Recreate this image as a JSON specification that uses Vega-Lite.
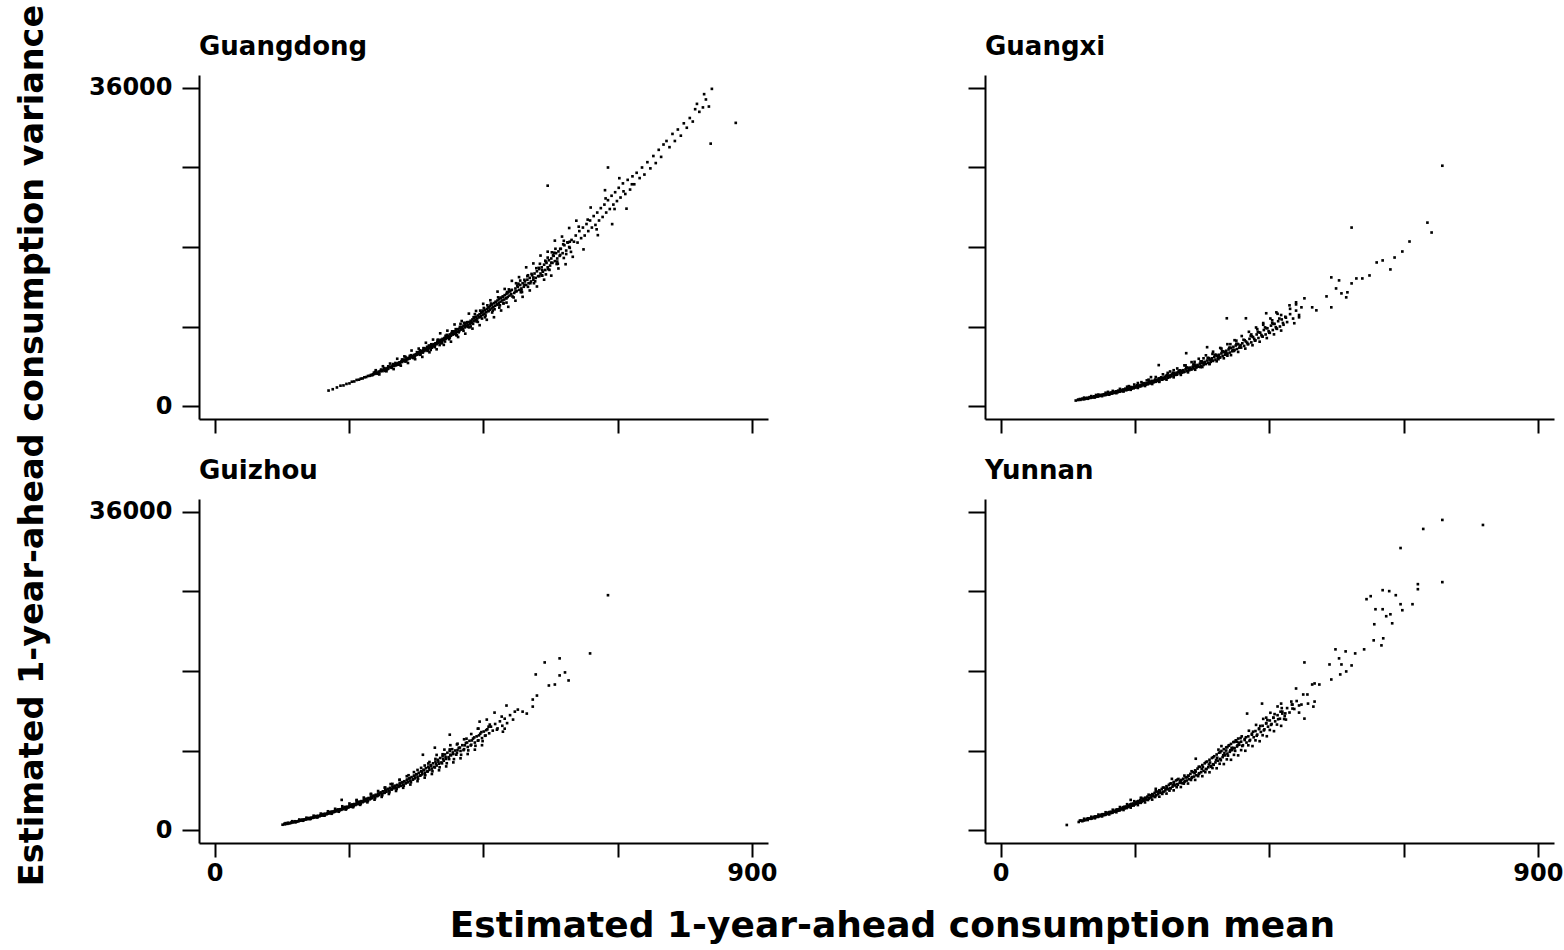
{
"$schema":"https://vega.github.io/schema/vega-lite/v6.json",
"background":"white",
"padding":{"left":16,"top":4,"right":5,"bottom":5},
"config":{"view":{"stroke":null},"font":"DejaVu Sans",
"axis":{"domainColor":"black","domainWidth":2,"tickColor":"black","tickWidth":2,"labelFont":"DejaVu Sans","labelFontWeight":"bold","labelFontSize":24,"labelColor":"black","grid":false,"title":null,"labelFlush":false,"labelOverlap":false},
"axisX":{"tickSize":14,"labelPadding":4},
"axisY":{"tickSize":17,"labelPadding":10}},
"title":{"text":"Estimated 1-year-ahead consumption mean","orient":"bottom","anchor":"middle","fontSize":36,"fontWeight":"bold","font":"DejaVu Sans","color":"black","offset":23,"dx":103},
"vconcat":[{
"title":{"text":"Estimated 1-year-ahead consumption variance","orient":"left","anchor":"middle","fontSize":33.5,"fontWeight":"bold","font":"DejaVu Sans","color":"black","offset":38,"dx":14},
"spacing":24,
"vconcat":[
{"hconcat":[
{"data":{"name":"gd"},"title":{"text":"Guangdong","anchor":"start","frame":"group","fontSize":26,"fontWeight":"bold","font":"DejaVu Sans","color":"black","offset":15},"width":569,"height":344,
"mark":{"type":"square","size":7,"color":"black","opacity":1},
"encoding":{"x":{"field":"m","type":"quantitative","scale":{"domain":[-26,927],"nice":false,"zero":false},"axis":{"values":[0,225,450,675,900],"labels":false}},
"y":{"field":"v","type":"quantitative","scale":{"domain":[-1470,37470],"nice":false,"zero":false},"axis":{"values":[0,9000,18000,27000,36000],"format":"d","labelExpr":"datum.value==0||datum.value==36000?datum.label:''"}}}},
{"data":{"name":"gx"},"title":{"text":"Guangxi","anchor":"start","frame":"group","fontSize":26,"fontWeight":"bold","font":"DejaVu Sans","color":"black","offset":15},"width":569,"height":344,
"mark":{"type":"square","size":7,"color":"black","opacity":1},
"encoding":{"x":{"field":"m","type":"quantitative","scale":{"domain":[-26,927],"nice":false,"zero":false},"axis":{"values":[0,225,450,675,900],"labels":false}},
"y":{"field":"v","type":"quantitative","scale":{"domain":[-1470,37470],"nice":false,"zero":false},"axis":{"values":[0,9000,18000,27000,36000],"labels":false}}}}
],"spacing":217,"bounds":"flush"},
{"hconcat":[
{"data":{"name":"gz"},"title":{"text":"Guizhou","anchor":"start","frame":"group","fontSize":26,"fontWeight":"bold","font":"DejaVu Sans","color":"black","offset":15},"width":569,"height":344,
"mark":{"type":"square","size":7,"color":"black","opacity":1},
"encoding":{"x":{"field":"m","type":"quantitative","scale":{"domain":[-26,927],"nice":false,"zero":false},"axis":{"values":[0,225,450,675,900],"format":"d","labelExpr":"datum.value==0||datum.value==900?datum.label:''"}},
"y":{"field":"v","type":"quantitative","scale":{"domain":[-1470,37470],"nice":false,"zero":false},"axis":{"values":[0,9000,18000,27000,36000],"format":"d","labelExpr":"datum.value==0||datum.value==36000?datum.label:''"}}}},
{"data":{"name":"yn"},"title":{"text":"Yunnan","anchor":"start","frame":"group","fontSize":26,"fontWeight":"bold","font":"DejaVu Sans","color":"black","offset":15},"width":569,"height":344,
"mark":{"type":"square","size":7,"color":"black","opacity":1},
"encoding":{"x":{"field":"m","type":"quantitative","scale":{"domain":[-26,927],"nice":false,"zero":false},"axis":{"values":[0,225,450,675,900],"format":"d","labelExpr":"datum.value==0||datum.value==900?datum.label:''"}},
"y":{"field":"v","type":"quantitative","scale":{"domain":[-1470,37470],"nice":false,"zero":false},"axis":{"values":[0,9000,18000,27000,36000],"labels":false}}}}
],"spacing":217,"bounds":"flush"}
]}],
"datasets":{
"gd":[{"m":191,"v":1750},{"m":198,"v":1900},{"m":205,"v":2100},{"m":211,"v":2300},{"m":216,"v":2330},{"m":221,"v":2500},{"m":226,"v":2560},{"m":230,"v":2750},{"m":234,"v":2780},{"m":238,"v":2950},{"m":242,"v":2980},{"m":245,"v":3100},{"m":248,"v":3120},{"m":251,"v":3250},{"m":254,"v":3280},{"m":257,"v":3400},{"m":260,"v":3420},
{"m":262,"v":3520},{"m":264,"v":3480},{"m":266,"v":3600},{"m":268,"v":3640},{"m":270,"v":3700},{"m":271,"v":3780},{"m":273,"v":3760},{"m":275,"v":3900},{"m":276,"v":3820},{"m":278,"v":3960},{"m":280,"v":4050},{"m":281,"v":3950},{"m":283,"v":4100},{"m":285,"v":4180},{"m":286,"v":4080},{"m":288,"v":4250},{"m":290,"v":4300},{"m":291,"v":4220},{"m":293,"v":4400},{"m":295,"v":4450},{"m":296,"v":4380},{"m":298,"v":4560},{"m":300,"v":4620},{"m":301,"v":4540},{"m":303,"v":4700},
{"m":305,"v":4800},{"m":306,"v":4680},{"m":308,"v":4860},{"m":310,"v":4950},{"m":311,"v":4820},{"m":313,"v":5050},{"m":314,"v":4980},{"m":316,"v":5150},{"m":318,"v":5100},{"m":319,"v":5260},{"m":321,"v":5200},{"m":322,"v":5350},{"m":324,"v":5300},{"m":325,"v":5450},{"m":327,"v":5380},{"m":328,"v":5560},{"m":330,"v":5500},{"m":331,"v":5650},{"m":333,"v":5600},{"m":334,"v":5780},{"m":336,"v":5700},{"m":337,"v":5850},{"m":339,"v":5800},{"m":340,"v":5980},{"m":342,"v":5900},{"m":343,"v":6100},{"m":345,"v":6000},{"m":346,"v":6200},{"m":348,"v":6120},{"m":349,"v":6300},{"m":351,"v":6220},{"m":352,"v":6400},{"m":354,"v":6300},{"m":355,"v":6520},{"m":357,"v":6450},{"m":358,"v":6650},{"m":360,"v":6550},{"m":361,"v":6780},{"m":363,"v":6700},{"m":364,"v":6900},{"m":366,"v":6750},{"m":367,"v":7000},{"m":369,"v":6900},{"m":370,"v":7100},{"m":372,"v":7000},{"m":373,"v":7250},{"m":375,"v":7150},{"m":376,"v":7350},{"m":378,"v":7250},{"m":379,"v":7500},{"m":381,"v":7380},{"m":382,"v":7600},{"m":384,"v":7450},{"m":385,"v":7700},{"m":387,"v":7600},{"m":388,"v":7850},{"m":390,"v":7700},{"m":391,"v":7950},{"m":393,"v":7850},{"m":394,"v":8100},{"m":396,"v":7950},{"m":397,"v":8250},{"m":399,"v":8100},{"m":400,"v":8350},
{"m":320,"v":5550},{"m":335,"v":5450},{"m":350,"v":6550},{"m":362,"v":6350},{"m":374,"v":7500},{"m":386,"v":7300},{"m":398,"v":8450},{"m":356,"v":6700},{"m":344,"v":5800},{"m":377,"v":6900},
{"m":401,"v":8150},{"m":402,"v":8450},{"m":404,"v":8300},{"m":405,"v":8550},{"m":407,"v":8400},{"m":408,"v":8700},{"m":410,"v":8500},{"m":411,"v":8800},{"m":413,"v":8650},{"m":414,"v":8950},{"m":416,"v":8750},{"m":417,"v":9100},{"m":419,"v":8900},{"m":420,"v":9200},{"m":422,"v":9050},{"m":423,"v":9350},{"m":425,"v":9150},{"m":426,"v":9500},{"m":428,"v":9300},{"m":429,"v":9650},{"m":431,"v":9450},{"m":432,"v":9800},{"m":434,"v":9600},{"m":435,"v":9950},{"m":437,"v":9750},{"m":438,"v":10100},{"m":440,"v":9900},{"m":441,"v":10250},{"m":443,"v":10050},{"m":444,"v":10400},{"m":446,"v":10150},{"m":447,"v":10550},{"m":449,"v":10300},{"m":450,"v":10700},{"m":452,"v":10450},{"m":453,"v":10850},{"m":455,"v":10600},{"m":456,"v":11000},{"m":458,"v":10750},{"m":459,"v":11150},{"m":461,"v":10900},{"m":462,"v":11350},{"m":464,"v":11050},{"m":465,"v":11500},{"m":467,"v":11200},{"m":468,"v":11650},{"m":470,"v":11350},{"m":471,"v":11800},{"m":473,"v":11500},{"m":474,"v":11950},{"m":476,"v":11650},{"m":477,"v":12100},{"m":479,"v":11800},{"m":480,"v":12250},{"m":482,"v":11950},{"m":483,"v":12400},{"m":485,"v":12050},{"m":486,"v":12550},{"m":488,"v":12200},{"m":489,"v":12700},{"m":491,"v":12350},{"m":492,"v":12850},{"m":494,"v":12500},{"m":495,"v":13000},{"m":497,"v":12650},{"m":498,"v":13150},
{"m":412,"v":9300},{"m":427,"v":8900},{"m":436,"v":10400},{"m":448,"v":9900},{"m":457,"v":11400},{"m":466,"v":10800},{"m":475,"v":12300},{"m":484,"v":11600},{"m":493,"v":13200},{"m":406,"v":8000},{"m":418,"v":9400},{"m":433,"v":9300},{"m":445,"v":10800},{"m":463,"v":11600},{"m":478,"v":11400},{"m":490,"v":12900},{"m":451,"v":11100},{"m":439,"v":9600},
{"m":502,"v":12800},{"m":504,"v":13300},{"m":506,"v":13000},{"m":508,"v":13500},{"m":510,"v":13150},{"m":512,"v":13700},{"m":514,"v":13300},{"m":516,"v":13900},{"m":518,"v":13500},{"m":520,"v":14100},{"m":522,"v":13700},{"m":524,"v":14300},{"m":526,"v":13900},{"m":528,"v":14500},{"m":530,"v":14100},{"m":532,"v":14800},{"m":534,"v":14300},{"m":536,"v":15000},{"m":538,"v":14500},{"m":540,"v":15250},{"m":542,"v":14700},{"m":544,"v":15500},{"m":546,"v":15000},{"m":548,"v":15700},{"m":550,"v":15200},{"m":552,"v":16000},{"m":554,"v":15400},{"m":556,"v":16200},{"m":558,"v":15700},{"m":560,"v":16500},{"m":562,"v":15900},{"m":564,"v":16700},{"m":566,"v":16200},{"m":568,"v":17000},{"m":570,"v":16400},{"m":572,"v":17300},{"m":574,"v":16700},{"m":576,"v":17500},{"m":578,"v":17000},{"m":580,"v":17800},{"m":583,"v":17300},{"m":586,"v":18200},{"m":589,"v":17600},{"m":592,"v":18500},{"m":595,"v":17900},{"m":598,"v":18800},
{"m":505,"v":13900},{"m":515,"v":12900},{"m":525,"v":14800},{"m":535,"v":13900},{"m":545,"v":16100},{"m":555,"v":14900},{"m":565,"v":17400},{"m":575,"v":16100},{"m":585,"v":18700},{"m":595,"v":18600},{"m":512,"v":14200},{"m":548,"v":14800},{"m":571,"v":17800},{"m":558,"v":16800},{"m":558,"v":24940},
{"m":602,"v":18600},{"m":605,"v":19300},{"m":608,"v":18500},{"m":611,"v":19800},{"m":614,"v":19000},{"m":617,"v":20200},{"m":620,"v":19300},{"m":623,"v":20600},{"m":626,"v":19800},{"m":629,"v":21000},{"m":632,"v":20200},{"m":635,"v":21500},{"m":638,"v":20500},{"m":641,"v":21900},{"m":644,"v":21000},{"m":647,"v":22400},{"m":650,"v":21400},{"m":653,"v":22800},{"m":656,"v":21900},{"m":659,"v":23300},{"m":662,"v":22300},{"m":665,"v":23800},{"m":668,"v":22800},{"m":671,"v":24200},{"m":674,"v":23200},{"m":677,"v":24700},{"m":680,"v":23600},{"m":684,"v":25200},{"m":688,"v":24000},{"m":692,"v":25600},{"m":696,"v":24500},{"m":700,"v":26000},
{"m":610,"v":20300},{"m":625,"v":21100},{"m":640,"v":20000},{"m":655,"v":23500},{"m":670,"v":22300},{"m":685,"v":24300},{"m":699,"v":25100},{"m":659,"v":27000},
{"m":703,"v":25100},{"m":707,"v":26400},{"m":712,"v":25800},{"m":716,"v":27000},{"m":720,"v":26200},{"m":725,"v":27600},{"m":730,"v":26900},{"m":735,"v":28300},{"m":739,"v":27500},{"m":744,"v":29000},{"m":748,"v":28200},{"m":752,"v":29600},{"m":757,"v":30000},{"m":762,"v":29300},{"m":767,"v":30800},{"m":771,"v":30000},{"m":776,"v":31300},{"m":781,"v":30600},{"m":786,"v":32000},{"m":791,"v":31500},{"m":796,"v":32600},{"m":801,"v":32200},{"m":808,"v":34200},{"m":812,"v":33300},{"m":818,"v":33800},{"m":823,"v":34700},{"m":828,"v":33900},{"m":831,"v":29700},{"m":833,"v":35900},{"m":873,"v":32050},{"m":820,"v":35300},{"m":805,"v":33600},
{"m":265,"v":3560},{"m":269,"v":3850},{"m":274,"v":3700},{"m":279,"v":4000},{"m":284,"v":4300},{"m":289,"v":4150},{"m":294,"v":4420},{"m":299,"v":4750},{"m":304,"v":4600},{"m":309,"v":4880},{"m":314,"v":5250},{"m":319,"v":5050},{"m":324,"v":5360},{"m":329,"v":5750},{"m":334,"v":5550},{"m":339,"v":5860},{"m":344,"v":6300},{"m":349,"v":6050},{"m":354,"v":6400},{"m":359,"v":6850},{"m":364,"v":6600},{"m":369,"v":6950},{"m":374,"v":7450},{"m":379,"v":7150},{"m":384,"v":7530},{"m":389,"v":8050},{"m":394,"v":7750},{"m":399,"v":8130},{"m":404,"v":8700},{"m":409,"v":8350},{"m":414,"v":8740},{"m":419,"v":9400},{"m":424,"v":8950},{"m":429,"v":9390},{"m":434,"v":10050},{"m":439,"v":9600},{"m":444,"v":10060},{"m":449,"v":10800},{"m":454,"v":10250},{"m":459,"v":10750},{"m":464,"v":11500},{"m":469,"v":10950},{"m":474,"v":11460},{"m":479,"v":12250},{"m":484,"v":11650},{"m":489,"v":12200},{"m":494,"v":13050},{"m":499,"v":12400},{"m":504,"v":12960},{"m":509,"v":13850},{"m":514,"v":13100},{"m":519,"v":13740},{"m":524,"v":14700},{"m":529,"v":13900},{"m":534,"v":14550},{"m":539,"v":15600},{"m":544,"v":14700},{"m":549,"v":15380},{"m":554,"v":16450},{"m":559,"v":15500},{"m":564,"v":16230},{"m":569,"v":17350},{"m":574,"v":16350},{"m":579,"v":17100},{"m":584,"v":18300},{"m":589,"v":17200},{"m":594,"v":18000},
{"m":270,"v":4050},{"m":276,"v":3575},{"m":282,"v":4500},{"m":288,"v":3935},{"m":294,"v":4805},{"m":300,"v":4180},{"m":306,"v":5350},{"m":312,"v":4570},{"m":318,"v":5620},{"m":324,"v":4870},{"m":330,"v":6280},{"m":336,"v":5300},{"m":342,"v":6500},{"m":348,"v":5560},{"m":354,"v":7160},{"m":360,"v":6080},{"m":366,"v":7520},{"m":372,"v":6420},{"m":378,"v":8230},{"m":384,"v":6920},{"m":390,"v":8530},{"m":396,"v":7280},{"m":402,"v":9230},{"m":408,"v":7810},{"m":414,"v":9620},{"m":420,"v":8190},{"m":426,"v":10460},{"m":432,"v":8760},{"m":438,"v":10760},{"m":444,"v":9150},{"m":450,"v":11570},{"m":456,"v":9760},{"m":462,"v":11970},{"m":468,"v":10050},{"m":474,"v":12950},{"m":480,"v":10810},{"m":486,"v":13250},{"m":492,"v":11230},{"m":498,"v":14170},{"m":504,"v":11920},{"m":510,"v":14590},{"m":516,"v":12360},{"m":522,"v":15700},{"m":528,"v":13080},{"m":534,"v":16140},{"m":540,"v":13530},{"m":546,"v":17030},{"m":552,"v":14300},{"m":558,"v":17470},{"m":564,"v":14760},{"m":570,"v":18720},{"m":576,"v":15570},{"m":582,"v":19180},{"m":588,"v":16050},{"m":594,"v":20150},{"m":600,"v":16890},{"m":606,"v":20980},{"m":618,"v":17730},{"m":630,"v":22470},{"m":642,"v":19340},{"m":654,"v":24430},{"m":666,"v":20590},{"m":678,"v":25790},{"m":690,"v":22340},
{"m":267,"v":3780},{"m":273,"v":3650},{"m":279,"v":4130},{"m":285,"v":3975},{"m":291,"v":4490},{"m":297,"v":4320},{"m":303,"v":4870},{"m":309,"v":4675},{"m":315,"v":5260},{"m":321,"v":5045},{"m":327,"v":5670},{"m":333,"v":5430},{"m":339,"v":6095},{"m":345,"v":5825},{"m":351,"v":6535},{"m":357,"v":6240},{"m":363,"v":6990},{"m":369,"v":6665},{"m":375,"v":7460},{"m":381,"v":7105},{"m":387,"v":7945},{"m":393,"v":7560},{"m":399,"v":8445},{"m":405,"v":8030},{"m":411,"v":8960},{"m":417,"v":8515},{"m":423,"v":9490},{"m":429,"v":9010},{"m":435,"v":10035},{"m":441,"v":9520},{"m":447,"v":10600},{"m":453,"v":10045},{"m":459,"v":11175},{"m":465,"v":10585},{"m":471,"v":11765},{"m":477,"v":11140},{"m":483,"v":12375},{"m":489,"v":11705},{"m":495,"v":12995},{"m":501,"v":12290},{"m":507,"v":13635},{"m":513,"v":12885},{"m":519,"v":14285},{"m":525,"v":13495},{"m":531,"v":14955},{"m":537,"v":14120},{"m":543,"v":15640},{"m":549,"v":14755},{"m":555,"v":16335},{"m":561,"v":15410},{"m":567,"v":17050},{"m":573,"v":16075},{"m":579,"v":17780},{"m":585,"v":16755},{"m":591,"v":18525},{"m":597,"v":17450}],
"gx":[{"m":126,"v":620},{"m":130,"v":680},{"m":134,"v":700},{"m":138,"v":780},{"m":141,"v":790},{"m":144,"v":850},{"m":147,"v":870},{"m":150,"v":930},{"m":152,"v":960},{"m":155,"v":990},{"m":157,"v":1030},{"m":159,"v":1060},{"m":161,"v":1080},{"m":163,"v":1120},{"m":165,"v":1130},{"m":167,"v":1180},{"m":169,"v":1190},{"m":171,"v":1250},{"m":173,"v":1240},{"m":175,"v":1300},{"m":176,"v":1260},{"m":178,"v":1350},{"m":180,"v":1330},{"m":181,"v":1400},{"m":183,"v":1380},{"m":185,"v":1460},{"m":186,"v":1420},{"m":188,"v":1500},{"m":190,"v":1480},{"m":191,"v":1560},{"m":193,"v":1530},{"m":195,"v":1620},{"m":196,"v":1560},{"m":198,"v":1680},{"m":200,"v":1640},{"m":201,"v":1730},{"m":203,"v":1690},{"m":205,"v":1800},{"m":206,"v":1730},{"m":208,"v":1860},{"m":210,"v":1800},{"m":211,"v":1900},{"m":213,"v":1860},{"m":215,"v":1980},{"m":216,"v":1900},{"m":218,"v":2050},{"m":220,"v":1980},{"m":221,"v":2100},{"m":223,"v":2040},{"m":225,"v":2180},{"m":226,"v":2090},{"m":228,"v":2250},{"m":230,"v":2150},{"m":231,"v":2300},{"m":233,"v":2220},{"m":235,"v":2380},{"m":236,"v":2280},{"m":238,"v":2450},{"m":240,"v":2350},{"m":241,"v":2500},{"m":243,"v":2420},{"m":245,"v":2580},{"m":246,"v":2480},{"m":248,"v":2650},{"m":250,"v":2560},{"m":251,"v":2720},{"m":253,"v":2620},{"m":255,"v":2800},{"m":256,"v":2680},{"m":258,"v":2880},{"m":260,"v":2760},{"m":261,"v":2950},{"m":263,"v":2830},{"m":265,"v":3050},{"m":266,"v":2900},{"m":268,"v":3120},{"m":270,"v":2980},{"m":271,"v":3200},{"m":273,"v":3070},{"m":275,"v":3280},{"m":276,"v":3130},{"m":278,"v":3370},{"m":280,"v":3200},{"m":281,"v":3450},{"m":283,"v":3300},{"m":285,"v":3520},{"m":286,"v":3360},{"m":288,"v":3600},{"m":290,"v":3450},{"m":291,"v":3700},{"m":293,"v":3520},{"m":295,"v":3780},{"m":296,"v":3600},{"m":298,"v":3880},{"m":300,"v":3700},
{"m":265,"v":4630},{"m":252,"v":3270},{"m":230,"v":2600},{"m":215,"v":2250},{"m":245,"v":2900},{"m":280,"v":3750},{"m":290,"v":4050},{"m":180,"v":1600},{"m":160,"v":1250},
{"m":302,"v":3950},{"m":304,"v":3780},{"m":306,"v":4050},{"m":308,"v":3880},{"m":310,"v":4150},{"m":312,"v":3950},{"m":314,"v":4250},{"m":316,"v":4050},{"m":318,"v":4350},{"m":320,"v":4150},{"m":322,"v":4450},{"m":324,"v":4250},{"m":326,"v":4550},{"m":328,"v":4350},{"m":330,"v":4650},{"m":332,"v":4450},{"m":334,"v":4800},{"m":336,"v":4550},{"m":338,"v":4900},{"m":340,"v":4650},{"m":342,"v":5000},{"m":344,"v":4750},{"m":346,"v":5150},{"m":348,"v":4900},{"m":350,"v":5250},{"m":352,"v":5000},{"m":354,"v":5400},{"m":356,"v":5100},{"m":358,"v":5550},{"m":360,"v":5250},{"m":362,"v":5700},{"m":364,"v":5400},{"m":366,"v":5800},{"m":368,"v":5500},{"m":370,"v":5950},{"m":372,"v":5650},{"m":374,"v":6100},{"m":376,"v":5800},{"m":378,"v":6250},{"m":380,"v":5950},{"m":382,"v":6400},{"m":384,"v":6050},{"m":386,"v":6550},{"m":388,"v":6200},{"m":390,"v":6700},{"m":392,"v":6350},{"m":394,"v":6850},{"m":396,"v":6450},{"m":398,"v":7000},{"m":400,"v":6600},
{"m":310,"v":4600},{"m":325,"v":5000},{"m":340,"v":5400},{"m":355,"v":5900},{"m":370,"v":6500},{"m":385,"v":7000},{"m":395,"v":7400},{"m":335,"v":4400},{"m":350,"v":4800},{"m":365,"v":5300},{"m":380,"v":5700},
{"m":311,"v":5980},{"m":346,"v":6660},{"m":379,"v":9930},{"m":411,"v":9930},{"m":445,"v":10500},{"m":462,"v":10600},
{"m":402,"v":6900},{"m":405,"v":7100},{"m":408,"v":6800},{"m":411,"v":7300},{"m":414,"v":7000},{"m":417,"v":7600},{"m":420,"v":7200},{"m":423,"v":7800},{"m":426,"v":7400},{"m":429,"v":8100},{"m":432,"v":7700},{"m":435,"v":8300},{"m":438,"v":7900},{"m":441,"v":8600},{"m":444,"v":8100},{"m":447,"v":8800},{"m":450,"v":8300},{"m":453,"v":9100},{"m":456,"v":8600},{"m":459,"v":9300},{"m":462,"v":8800},{"m":465,"v":9600},{"m":468,"v":9000},{"m":471,"v":9800},{"m":474,"v":9200},{"m":477,"v":10100},{"m":480,"v":9500},{"m":485,"v":10400},{"m":490,"v":9900},{"m":495,"v":10800},{"m":500,"v":10300},
{"m":420,"v":8100},{"m":440,"v":9200},{"m":455,"v":9700},{"m":470,"v":10300},{"m":485,"v":11000},{"m":495,"v":11500},{"m":430,"v":8700},
{"m":484,"v":11400},{"m":495,"v":11740},{"m":504,"v":11170},{"m":509,"v":12190},{"m":500,"v":10040},{"m":492,"v":9370},{"m":478,"v":10000},
{"m":522,"v":11170},{"m":529,"v":10830},{"m":546,"v":12410},{"m":554,"v":14560},{"m":554,"v":11170},{"m":562,"v":13310},{"m":567,"v":14220},{"m":571,"v":12750},{"m":579,"v":12300},{"m":581,"v":12870},{"m":588,"v":13880},{"m":596,"v":14440},{"m":606,"v":14440},{"m":618,"v":14780},{"m":630,"v":16250},{"m":640,"v":16480},{"m":653,"v":15460},{"m":660,"v":16810},{"m":673,"v":17490},{"m":685,"v":18620},{"m":715,"v":20760},{"m":722,"v":19640},{"m":740,"v":27200},{"m":588,"v":20200},
{"m":130,"v":720},{"m":137,"v":830},{"m":143,"v":870},{"m":149,"v":1000},{"m":155,"v":1010},{"m":161,"v":1160},{"m":167,"v":1170},{"m":173,"v":1330},{"m":179,"v":1350},{"m":185,"v":1530},{"m":191,"v":1540},{"m":197,"v":1740},{"m":203,"v":1740},{"m":209,"v":1960},{"m":214,"v":1930},{"m":219,"v":2150},{"m":224,"v":2110},{"m":229,"v":2350},{"m":234,"v":2310},{"m":239,"v":2560},{"m":244,"v":2500},{"m":249,"v":2780},{"m":254,"v":2710},{"m":259,"v":3000},{"m":264,"v":2930},{"m":269,"v":3250},{"m":274,"v":3150},{"m":279,"v":3500},{"m":284,"v":3390},{"m":289,"v":3750},{"m":294,"v":3640},{"m":299,"v":4000},{"m":305,"v":3900},{"m":311,"v":4350},{"m":317,"v":4230},{"m":323,"v":4700},{"m":329,"v":4550},{"m":335,"v":5050},{"m":341,"v":4890},{"m":347,"v":5450},{"m":353,"v":5240},{"m":359,"v":5800},{"m":365,"v":5600},{"m":371,"v":6200},{"m":377,"v":5970},{"m":383,"v":6600},{"m":389,"v":6360},{"m":395,"v":7050},{"m":401,"v":6760},{"m":407,"v":7500},{"m":413,"v":7170},{"m":419,"v":7950},{"m":425,"v":7590},{"m":431,"v":8400},{"m":437,"v":8030},{"m":443,"v":8900},{"m":449,"v":8470},{"m":455,"v":9400},{"m":461,"v":8930},{"m":467,"v":9900},{"m":473,"v":9400},
{"m":140,"v":950},{"m":146,"v":820},{"m":152,"v":1120},{"m":158,"v":965},{"m":164,"v":1300},{"m":170,"v":1115},{"m":176,"v":1500},{"m":182,"v":1280},{"m":188,"v":1710},{"m":194,"v":1455},{"m":200,"v":1940},{"m":206,"v":1640},{"m":212,"v":2180},{"m":218,"v":1835},{"m":224,"v":2430},{"m":230,"v":2045},{"m":236,"v":2700},{"m":242,"v":2265},{"m":248,"v":2980},{"m":254,"v":2490},{"m":260,"v":3280},{"m":266,"v":2735},{"m":272,"v":3590},{"m":278,"v":2985},{"m":284,"v":3910},{"m":290,"v":3250},{"m":296,"v":4250},{"m":302,"v":3525},{"m":308,"v":4600},{"m":314,"v":3810},{"m":320,"v":4970},{"m":326,"v":4105},{"m":332,"v":5350},{"m":338,"v":4415},{"m":344,"v":5740},{"m":350,"v":4735},{"m":356,"v":6150},{"m":362,"v":5065},{"m":368,"v":6570},{"m":374,"v":5405},{"m":380,"v":7000},{"m":386,"v":5760},{"m":392,"v":7450},{"m":398,"v":6120},{"m":404,"v":7920},{"m":410,"v":6500},{"m":416,"v":8400},{"m":422,"v":6880},{"m":428,"v":8890},{"m":434,"v":7280},{"m":440,"v":9390},{"m":446,"v":7690},{"m":452,"v":9910},{"m":458,"v":8110},{"m":464,"v":10440},{"m":470,"v":8540},
{"m":133,"v":790},{"m":139,"v":785},{"m":145,"v":935},{"m":151,"v":930},{"m":157,"v":1100},{"m":163,"v":1080},{"m":169,"v":1270},{"m":175,"v":1250},{"m":181,"v":1460},{"m":187,"v":1425},{"m":193,"v":1660},{"m":199,"v":1615},{"m":205,"v":1870},{"m":211,"v":1815},{"m":217,"v":2095},{"m":223,"v":2025},{"m":229,"v":2335},{"m":235,"v":2250},{"m":241,"v":2585},{"m":247,"v":2485},{"m":253,"v":2850},{"m":259,"v":2735},{"m":265,"v":3125},{"m":271,"v":2990},{"m":277,"v":3415},{"m":283,"v":3265},{"m":289,"v":3720},{"m":295,"v":3545},{"m":301,"v":4035},{"m":307,"v":3840},{"m":313,"v":4360},{"m":319,"v":4145},{"m":325,"v":4700},{"m":331,"v":4465},{"m":337,"v":5055},{"m":343,"v":4795},{"m":349,"v":5425},{"m":355,"v":5135},{"m":361,"v":5800},{"m":367,"v":5485},{"m":373,"v":6195},{"m":379,"v":5850},{"m":385,"v":6600},{"m":391,"v":6230},{"m":397,"v":7015},{"m":403,"v":6615},{"m":409,"v":7445},{"m":415,"v":7015},{"m":421,"v":7890},{"m":427,"v":7430},{"m":433,"v":8345},{"m":439,"v":7850},{"m":445,"v":8815},{"m":451,"v":8285},{"m":457,"v":9300},{"m":463,"v":8735}],
"gz":[{"m":114,"v":600},{"m":118,"v":650},{"m":122,"v":700},{"m":125,"v":760},{"m":128,"v":800},{"m":131,"v":870},{"m":134,"v":890},{"m":137,"v":960},{"m":140,"v":980},{"m":142,"v":1050},{"m":144,"v":1060},{"m":146,"v":1120},{"m":148,"v":1130},{"m":150,"v":1190},{"m":152,"v":1180},{"m":154,"v":1250},{"m":156,"v":1240},{"m":158,"v":1320},{"m":160,"v":1300},{"m":162,"v":1390},{"m":164,"v":1370},{"m":166,"v":1450},{"m":168,"v":1430},{"m":170,"v":1530},{"m":172,"v":1490},{"m":174,"v":1600},{"m":176,"v":1560},{"m":178,"v":1680},{"m":180,"v":1630},{"m":182,"v":1760},{"m":184,"v":1710},{"m":186,"v":1840},{"m":188,"v":1790},{"m":190,"v":1930},{"m":192,"v":1870},{"m":194,"v":2010},{"m":196,"v":1950},{"m":198,"v":2100},{"m":200,"v":2030},{"m":202,"v":2180},{"m":204,"v":2110},{"m":206,"v":2270},{"m":208,"v":2190},{"m":210,"v":2350},{"m":212,"v":2280},{"m":214,"v":2440},{"m":216,"v":2360},{"m":218,"v":2540},{"m":220,"v":2450},{"m":222,"v":2630},{"m":224,"v":2540},{"m":226,"v":2730},{"m":228,"v":2630},{"m":230,"v":2830},{"m":232,"v":2730},{"m":234,"v":2940},{"m":236,"v":2830},{"m":238,"v":3050},{"m":240,"v":2930},{"m":242,"v":3160},{"m":244,"v":3040},{"m":246,"v":3270},{"m":248,"v":3150},{"m":250,"v":3380},{"m":252,"v":3260},{"m":254,"v":3500},{"m":256,"v":3370},{"m":258,"v":3620},{"m":260,"v":3480},{"m":262,"v":3740},{"m":264,"v":3600},{"m":266,"v":3860},{"m":268,"v":3720},{"m":270,"v":3990},{"m":272,"v":3840},{"m":274,"v":4110},{"m":276,"v":3960},{"m":278,"v":4240},{"m":280,"v":4080},{"m":282,"v":4380},{"m":284,"v":4200},{"m":286,"v":4510},{"m":288,"v":4330},{"m":290,"v":4650},{"m":292,"v":4460},{"m":294,"v":4780},{"m":296,"v":4590},{"m":298,"v":4930},{"m":300,"v":4720},
{"m":213,"v":3410},{"m":238,"v":3400},{"m":262,"v":4100},{"m":285,"v":4800},{"m":295,"v":5200},
{"m":302,"v":4950},{"m":304,"v":4760},{"m":306,"v":5100},{"m":308,"v":4880},{"m":310,"v":5250},{"m":312,"v":5000},{"m":314,"v":5380},{"m":316,"v":5130},{"m":318,"v":5520},{"m":320,"v":5270},{"m":322,"v":5680},{"m":324,"v":5400},{"m":326,"v":5830},{"m":328,"v":5550},{"m":330,"v":5990},{"m":332,"v":5700},{"m":334,"v":6150},{"m":336,"v":5850},{"m":338,"v":6320},{"m":340,"v":6000},{"m":342,"v":6480},{"m":344,"v":6150},{"m":346,"v":6650},{"m":348,"v":6300},{"m":350,"v":6820},{"m":352,"v":6450},{"m":354,"v":7000},{"m":356,"v":6620},{"m":358,"v":7170},{"m":360,"v":6800},{"m":362,"v":7350},{"m":364,"v":6950},{"m":366,"v":7550},{"m":368,"v":7150},{"m":370,"v":7750},{"m":372,"v":7300},{"m":374,"v":7950},{"m":376,"v":7500},{"m":378,"v":8150},{"m":380,"v":7650},{"m":382,"v":8350},{"m":384,"v":7850},{"m":386,"v":8550},{"m":388,"v":8050},{"m":390,"v":8750},{"m":392,"v":8250},{"m":394,"v":8950},{"m":396,"v":8450},{"m":398,"v":9150},{"m":400,"v":8600},
{"m":310,"v":5700},{"m":325,"v":6200},{"m":340,"v":6800},{"m":352,"v":7300},{"m":360,"v":7700},{"m":372,"v":8500},{"m":385,"v":9100},{"m":395,"v":9600},{"m":349,"v":8520},{"m":394,"v":10790},{"m":369,"v":9320},{"m":407,"v":9770},
{"m":403,"v":9000},{"m":406,"v":8750},{"m":409,"v":9300},{"m":412,"v":8950},{"m":415,"v":9600},{"m":418,"v":9150},{"m":421,"v":9850},{"m":424,"v":9400},{"m":427,"v":10100},{"m":430,"v":9650},{"m":433,"v":10350},{"m":436,"v":9900},{"m":439,"v":10600},{"m":442,"v":10150},{"m":445,"v":10900},{"m":448,"v":10400},{"m":451,"v":11150},{"m":454,"v":10700},{"m":457,"v":11400},{"m":460,"v":10950},{"m":463,"v":11700},{"m":466,"v":11250},{"m":470,"v":12000},{"m":474,"v":11500},{"m":478,"v":12300},{"m":482,"v":11800},{"m":486,"v":12600},{"m":490,"v":12100},{"m":495,"v":13000},{"m":500,"v":12500},
{"m":422,"v":10340},{"m":441,"v":11470},{"m":456,"v":12500},{"m":469,"v":13290},{"m":481,"v":12840},{"m":489,"v":14090},{"m":486,"v":11470},{"m":483,"v":11130},{"m":444,"v":12270},{"m":461,"v":11930},{"m":473,"v":11360},
{"m":503,"v":13400},{"m":508,"v":13630},{"m":516,"v":13400},{"m":523,"v":13180},{"m":533,"v":13970},{"m":533,"v":14770},{"m":540,"v":15220},{"m":538,"v":17610},{"m":553,"v":18970},{"m":560,"v":16360},{"m":570,"v":16470},{"m":578,"v":19430},{"m":578,"v":17500},{"m":587,"v":17840},{"m":593,"v":16930},{"m":629,"v":19990},{"m":659,"v":26580},
{"m":117,"v":700},{"m":123,"v":820},{"m":129,"v":870},{"m":135,"v":990},{"m":141,"v":1030},{"m":147,"v":1170},{"m":153,"v":1220},{"m":159,"v":1370},{"m":165,"v":1410},{"m":171,"v":1590},{"m":177,"v":1630},{"m":183,"v":1820},{"m":189,"v":1860},{"m":195,"v":2070},{"m":201,"v":2100},{"m":207,"v":2330},{"m":213,"v":2360},{"m":219,"v":2610},{"m":225,"v":2630},{"m":231,"v":2900},{"m":237,"v":2920},{"m":243,"v":3210},{"m":249,"v":3230},{"m":255,"v":3540},{"m":261,"v":3540},{"m":267,"v":3880},{"m":273,"v":3870},{"m":279,"v":4240},{"m":285,"v":4230},{"m":291,"v":4620},{"m":297,"v":4590},{"m":303,"v":5020},{"m":309,"v":4960},{"m":315,"v":5420},{"m":321,"v":5360},{"m":327,"v":5850},{"m":333,"v":5770},{"m":339,"v":6300},{"m":345,"v":6190},{"m":351,"v":6760},{"m":357,"v":6630},{"m":363,"v":7240},{"m":369,"v":7080},{"m":375,"v":7740},{"m":381,"v":7550},{"m":387,"v":8250},{"m":393,"v":8030},{"m":399,"v":8780},{"m":405,"v":8530},{"m":411,"v":9330},{"m":417,"v":9040},{"m":423,"v":9900},{"m":429,"v":9570},{"m":435,"v":10480},{"m":441,"v":10110},{"m":447,"v":11080},{"m":453,"v":10670},{"m":459,"v":11700},
{"m":130,"v":995},{"m":136,"v":885},{"m":142,"v":1185},{"m":148,"v":1050},{"m":154,"v":1395},{"m":160,"v":1225},{"m":166,"v":1620},{"m":172,"v":1415},{"m":178,"v":1860},{"m":184,"v":1620},{"m":190,"v":2120},{"m":196,"v":1840},{"m":202,"v":2400},{"m":208,"v":2070},{"m":214,"v":2690},{"m":220,"v":2315},{"m":226,"v":3000},{"m":232,"v":2575},{"m":238,"v":3330},{"m":244,"v":2850},{"m":250,"v":3670},{"m":256,"v":3135},{"m":262,"v":4030},{"m":268,"v":3435},{"m":274,"v":4410},{"m":280,"v":3750},{"m":286,"v":4805},{"m":292,"v":4080},{"m":298,"v":5220},{"m":304,"v":4420},{"m":310,"v":5650},{"m":316,"v":4780},{"m":322,"v":6090},{"m":328,"v":5145},{"m":334,"v":6555},{"m":340,"v":5530},{"m":346,"v":7035},{"m":352,"v":5930},{"m":358,"v":7530},{"m":364,"v":6340},{"m":370,"v":8045},{"m":376,"v":6765},{"m":382,"v":8575},{"m":388,"v":7200},{"m":394,"v":9120},{"m":400,"v":7655},{"m":406,"v":9685},{"m":412,"v":8120},{"m":418,"v":10270},{"m":424,"v":8600},{"m":430,"v":10865},{"m":436,"v":9095},{"m":442,"v":11480},{"m":448,"v":9600},
{"m":119,"v":775},{"m":125,"v":780},{"m":131,"v":935},{"m":137,"v":935},{"m":143,"v":1115},{"m":149,"v":1110},{"m":155,"v":1310},{"m":161,"v":1295},{"m":167,"v":1520},{"m":173,"v":1495},{"m":179,"v":1750},{"m":185,"v":1710},{"m":191,"v":1990},{"m":197,"v":1935},{"m":203,"v":2250},{"m":209,"v":2180},{"m":215,"v":2525},{"m":221,"v":2440},{"m":227,"v":2815},{"m":233,"v":2710},{"m":239,"v":3120},{"m":245,"v":2995},{"m":251,"v":3440},{"m":257,"v":3300},{"m":263,"v":3775},{"m":269,"v":3610},{"m":275,"v":4130},{"m":281,"v":3940},{"m":287,"v":4500},{"m":293,"v":4285},{"m":299,"v":4880},{"m":305,"v":4645},{"m":311,"v":5280},{"m":317,"v":5015},{"m":323,"v":5695},{"m":329,"v":5405},{"m":335,"v":6130},{"m":341,"v":5805},{"m":347,"v":6575},{"m":353,"v":6220},{"m":359,"v":7035},{"m":365,"v":6650},{"m":371,"v":7515},{"m":377,"v":7095},{"m":383,"v":8010},{"m":389,"v":7555},{"m":395,"v":8520},{"m":401,"v":8025},{"m":407,"v":9045},{"m":413,"v":8515},{"m":419,"v":9585},{"m":425,"v":9015},{"m":431,"v":10140},{"m":437,"v":9535},{"m":443,"v":10715},{"m":449,"v":10065},{"m":455,"v":11305}],
"yn":[{"m":111,"v":570},{"m":131,"v":910},{"m":137,"v":1000},{"m":142,"v":1120},{"m":146,"v":1180},{"m":150,"v":1300},{"m":153,"v":1310},{"m":156,"v":1420},{"m":159,"v":1450},{"m":161,"v":1520},{"m":164,"v":1540},{"m":166,"v":1620},{"m":168,"v":1600},{"m":170,"v":1700},{"m":172,"v":1680},{"m":174,"v":1780},{"m":176,"v":1750},{"m":178,"v":1870},{"m":180,"v":1830},{"m":182,"v":1960},{"m":184,"v":1910},{"m":186,"v":2050},{"m":188,"v":2000},{"m":190,"v":2140},{"m":192,"v":2090},{"m":194,"v":2240},{"m":196,"v":2180},{"m":198,"v":2340},{"m":200,"v":2270},{"m":202,"v":2440},{"m":204,"v":2370},{"m":206,"v":2550},{"m":208,"v":2460},{"m":210,"v":2660},{"m":212,"v":2560},{"m":214,"v":2770},{"m":216,"v":2660},{"m":218,"v":2880},{"m":220,"v":2760},{"m":222,"v":3000},{"m":224,"v":2870},{"m":226,"v":3120},{"m":228,"v":2980},{"m":230,"v":3240},{"m":232,"v":3090},{"m":234,"v":3370},{"m":236,"v":3200},{"m":238,"v":3500},{"m":240,"v":3320},{"m":242,"v":3640},{"m":244,"v":3440},{"m":246,"v":3780},{"m":248,"v":3560},{"m":250,"v":3920},{"m":252,"v":3680},{"m":254,"v":4060},{"m":256,"v":3810},{"m":258,"v":4200},{"m":260,"v":3940},{"m":262,"v":4350},{"m":264,"v":4070},{"m":266,"v":4500},{"m":268,"v":4200},{"m":270,"v":4650},{"m":272,"v":4330},{"m":274,"v":4800},{"m":276,"v":4470},{"m":278,"v":4960},{"m":280,"v":4610},{"m":282,"v":5120},{"m":284,"v":4750},{"m":286,"v":5280},{"m":288,"v":4900},{"m":290,"v":5440},{"m":292,"v":5050},{"m":294,"v":5610},{"m":296,"v":5200},{"m":298,"v":5780},{"m":300,"v":5350},
{"m":218,"v":3410},{"m":235,"v":3640},{"m":287,"v":5790},{"m":260,"v":4660},{"m":327,"v":8070},{"m":353,"v":7160},
{"m":302,"v":5600},{"m":304,"v":5300},{"m":306,"v":5800},{"m":308,"v":5450},{"m":310,"v":5950},{"m":312,"v":5600},{"m":314,"v":6150},{"m":316,"v":5750},{"m":318,"v":6350},{"m":320,"v":5900},{"m":322,"v":6550},{"m":324,"v":6050},{"m":326,"v":6750},{"m":328,"v":6200},{"m":330,"v":6950},{"m":332,"v":6350},{"m":334,"v":7150},{"m":336,"v":6550},{"m":338,"v":7350},{"m":340,"v":6700},{"m":342,"v":7550},{"m":344,"v":6900},{"m":346,"v":7750},{"m":348,"v":7100},{"m":350,"v":7950},{"m":352,"v":7250},{"m":354,"v":8150},{"m":356,"v":7450},{"m":358,"v":8350},{"m":360,"v":7650},{"m":362,"v":8550},{"m":364,"v":7850},{"m":366,"v":8750},{"m":368,"v":8050},{"m":370,"v":8950},{"m":372,"v":8250},{"m":374,"v":9150},{"m":376,"v":8450},{"m":378,"v":9350},{"m":380,"v":8650},{"m":382,"v":9550},{"m":384,"v":8850},{"m":386,"v":9750},{"m":388,"v":9050},{"m":390,"v":9950},{"m":392,"v":9250},{"m":394,"v":10150},{"m":396,"v":9450},{"m":398,"v":10350},{"m":400,"v":9650},
{"m":383,"v":9600},{"m":390,"v":9300},{"m":396,"v":10000},{"m":402,"v":10400},{"m":378,"v":9000},{"m":370,"v":9500},{"m":365,"v":9100},
{"m":403,"v":10000},{"m":406,"v":9600},{"m":409,"v":10300},{"m":412,"v":9900},{"m":415,"v":10600},{"m":418,"v":10200},{"m":421,"v":10900},{"m":424,"v":10500},{"m":427,"v":11200},{"m":430,"v":10800},{"m":433,"v":11500},{"m":436,"v":11100},{"m":439,"v":11800},{"m":442,"v":11400},{"m":445,"v":12100},{"m":448,"v":11700},{"m":451,"v":12400},{"m":454,"v":12000},{"m":457,"v":12700},{"m":460,"v":12300},{"m":464,"v":13000},{"m":468,"v":12600},{"m":472,"v":13400},{"m":476,"v":12900},{"m":480,"v":13800},{"m":484,"v":13300},{"m":488,"v":14200},{"m":492,"v":13700},{"m":496,"v":14600},{"m":500,"v":14100},
{"m":413,"v":13180},{"m":438,"v":14310},{"m":445,"v":12720},{"m":472,"v":13180},{"m":478,"v":12500},{"m":489,"v":13750},{"m":487,"v":14540},{"m":470,"v":14310},
{"m":495,"v":16020},{"m":504,"v":14200},{"m":507,"v":15340},{"m":509,"v":12610},{"m":509,"v":18970},{"m":514,"v":15340},{"m":522,"v":16470},{"m":526,"v":14540},{"m":526,"v":16590},{"m":534,"v":16470},{"m":551,"v":18740},{"m":554,"v":17040},{"m":561,"v":20450},{"m":567,"v":19430},{"m":569,"v":17610},{"m":571,"v":18740},{"m":578,"v":20220},{"m":579,"v":17950},{"m":588,"v":18630},{"m":594,"v":19990},{"m":609,"v":20450},{"m":613,"v":26130},{"m":620,"v":26470},{"m":625,"v":21470},{"m":628,"v":24990},{"m":626,"v":23290},{"m":640,"v":24990},{"m":638,"v":20900},{"m":641,"v":21700},{"m":640,"v":27150},{"m":646,"v":24200},{"m":651,"v":27040},{"m":653,"v":24420},{"m":656,"v":23400},{"m":662,"v":26580},{"m":670,"v":31920},{"m":670,"v":25560},{"m":673,"v":24880},{"m":690,"v":25560},{"m":699,"v":27830},{"m":699,"v":27260},{"m":708,"v":34080},{"m":740,"v":28060},{"m":740,"v":35100},{"m":808,"v":34530},
{"m":489,"v":14200},{"m":500,"v":13290},{"m":515,"v":14310},{"m":524,"v":13970},
{"m":135,"v":1080},{"m":141,"v":1150},{"m":147,"v":1320},{"m":153,"v":1360},{"m":159,"v":1540},{"m":165,"v":1580},{"m":171,"v":1790},{"m":177,"v":1820},{"m":183,"v":2050},{"m":189,"v":2070},{"m":195,"v":2330},{"m":201,"v":2340},{"m":207,"v":2630},{"m":213,"v":2630},{"m":219,"v":2950},{"m":225,"v":2940},{"m":231,"v":3280},{"m":237,"v":3260},{"m":243,"v":3630},{"m":249,"v":3600},{"m":255,"v":4000},{"m":261,"v":3950},{"m":267,"v":4390},{"m":273,"v":4320},{"m":279,"v":4800},{"m":285,"v":4710},{"m":291,"v":5230},{"m":297,"v":5120},{"m":303,"v":5670},{"m":309,"v":5540},{"m":315,"v":6140},{"m":321,"v":5980},{"m":327,"v":6620},{"m":333,"v":6430},{"m":339,"v":7120},{"m":345,"v":6900},{"m":351,"v":7640},{"m":357,"v":7390},{"m":363,"v":8180},{"m":369,"v":7900},{"m":375,"v":8730},{"m":381,"v":8420},{"m":387,"v":9300},{"m":393,"v":8960},{"m":399,"v":9890},{"m":405,"v":9510},{"m":411,"v":10500},{"m":417,"v":10090},{"m":423,"v":11130},{"m":429,"v":10670},{"m":435,"v":11780},{"m":441,"v":11280},{"m":447,"v":12440},{"m":453,"v":11900},{"m":459,"v":13120},{"m":465,"v":12540},{"m":471,"v":13800},{"m":477,"v":13200},
{"m":140,"v":1275},{"m":146,"v":1135},{"m":152,"v":1500},{"m":158,"v":1330},{"m":164,"v":1745},{"m":170,"v":1540},{"m":176,"v":2010},{"m":182,"v":1765},{"m":188,"v":2295},{"m":194,"v":2010},{"m":200,"v":2600},{"m":206,"v":2265},{"m":212,"v":2920},{"m":218,"v":2535},{"m":224,"v":3260},{"m":230,"v":2825},{"m":236,"v":3620},{"m":242,"v":3125},{"m":248,"v":3995},{"m":254,"v":3440},{"m":260,"v":4390},{"m":266,"v":3775},{"m":272,"v":4805},{"m":278,"v":4125},{"m":284,"v":5240},{"m":290,"v":4490},{"m":296,"v":5690},{"m":302,"v":4865},{"m":308,"v":6160},{"m":314,"v":5260},{"m":320,"v":6650},{"m":326,"v":5670},{"m":332,"v":7160},{"m":338,"v":6095},{"m":344,"v":7690},{"m":350,"v":6535},{"m":356,"v":8235},{"m":362,"v":6990},{"m":368,"v":8800},{"m":374,"v":7465},{"m":380,"v":9380},{"m":386,"v":7950},{"m":392,"v":9980},{"m":398,"v":8450},{"m":404,"v":10600},{"m":410,"v":8970},{"m":416,"v":11240},{"m":422,"v":9500},{"m":428,"v":11900},{"m":434,"v":10050},{"m":440,"v":12580},{"m":446,"v":10615},{"m":452,"v":13270},{"m":458,"v":11190},{"m":464,"v":13985},{"m":470,"v":11790},
{"m":133,"v":1075},{"m":139,"v":1075},{"m":145,"v":1280},{"m":151,"v":1270},{"m":157,"v":1500},{"m":163,"v":1480},{"m":169,"v":1740},{"m":175,"v":1705},{"m":181,"v":1995},{"m":187,"v":1945},{"m":193,"v":2270},{"m":199,"v":2205},{"m":205,"v":2560},{"m":211,"v":2480},{"m":217,"v":2870},{"m":223,"v":2770},{"m":229,"v":3195},{"m":235,"v":3075},{"m":241,"v":3535},{"m":247,"v":3395},{"m":253,"v":3900},{"m":259,"v":3735},{"m":265,"v":4275},{"m":271,"v":4090},{"m":277,"v":4675},{"m":283,"v":4460},{"m":289,"v":5085},{"m":295,"v":4845},{"m":301,"v":5515},{"m":307,"v":5250},{"m":313,"v":5965},{"m":319,"v":5665},{"m":325,"v":6430},{"m":331,"v":6100},{"m":337,"v":6915},{"m":343,"v":6550},{"m":349,"v":7415},{"m":355,"v":7015},{"m":361,"v":7935},{"m":367,"v":7500},{"m":373,"v":8470},{"m":379,"v":7995},{"m":385,"v":9025},{"m":391,"v":8510},{"m":397,"v":9600},{"m":403,"v":9045},{"m":409,"v":10185},{"m":415,"v":9590},{"m":421,"v":10795},{"m":427,"v":10150},{"m":433,"v":11420},{"m":439,"v":10730},{"m":445,"v":12060},{"m":451,"v":11325},{"m":457,"v":12720},{"m":463,"v":11935},{"m":469,"v":13395},{"m":475,"v":12565}]
}
}
